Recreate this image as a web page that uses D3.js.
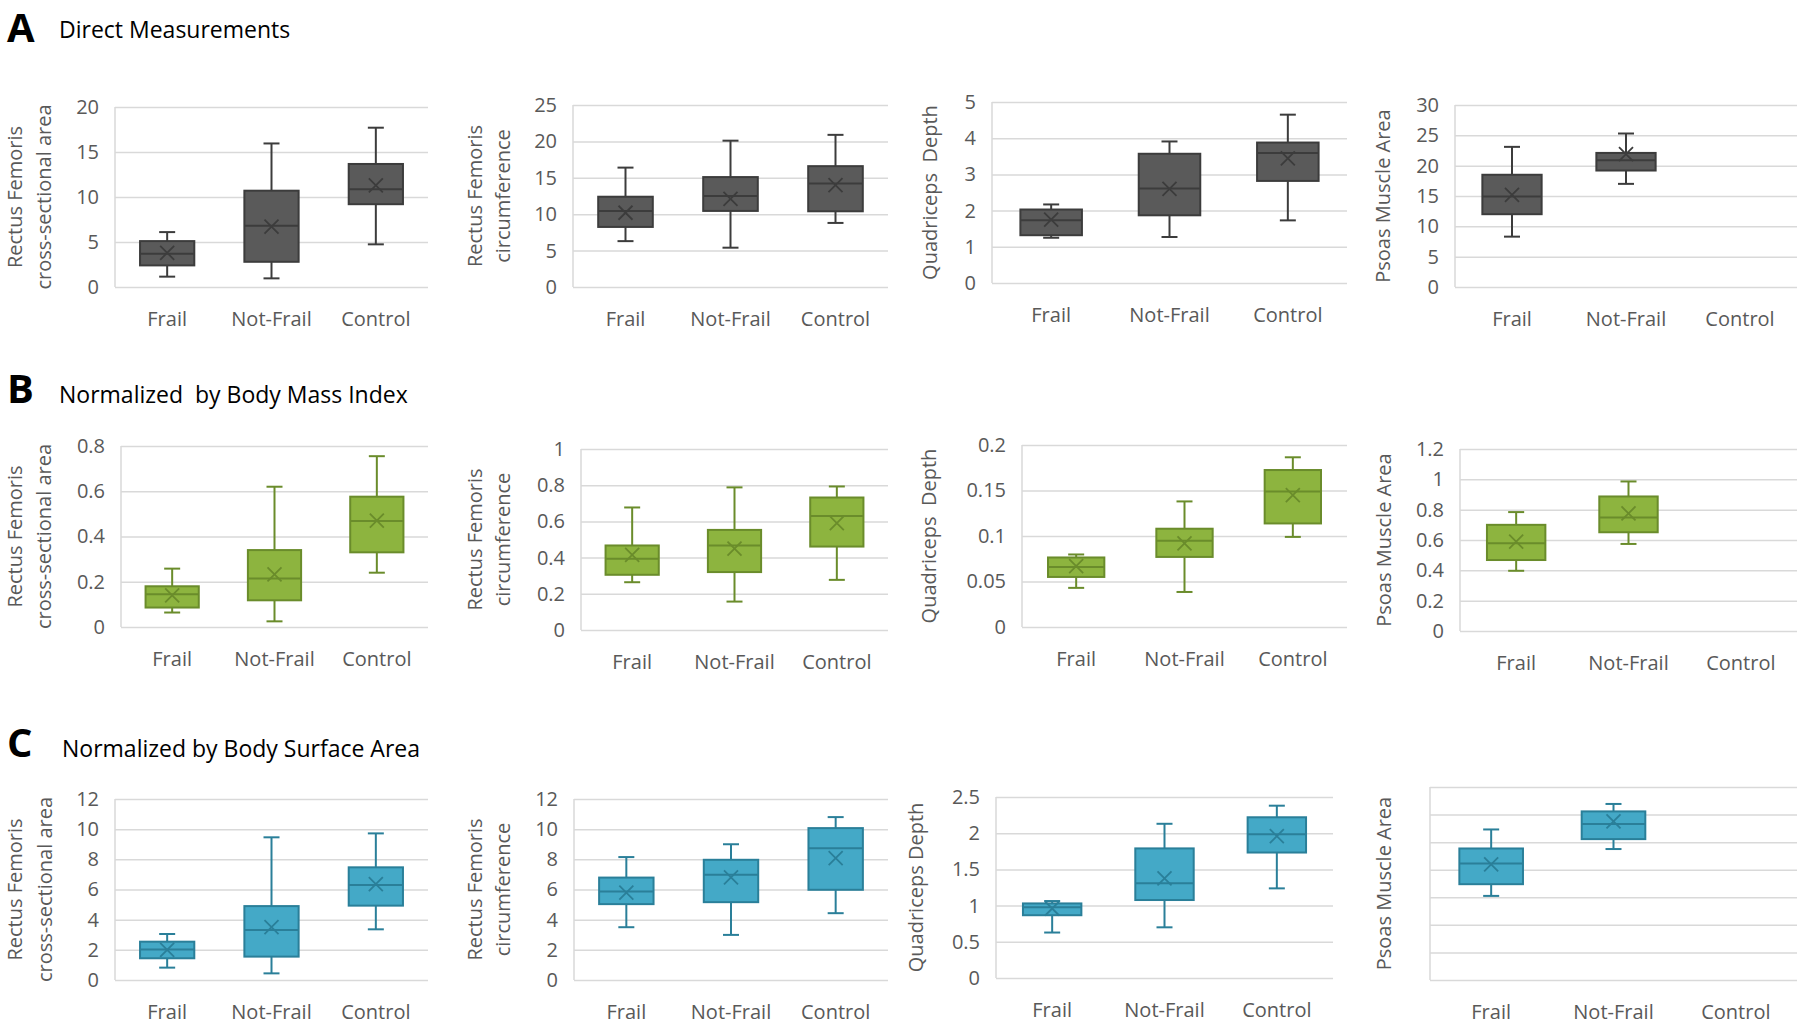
<!DOCTYPE html>
<html><head><meta charset="utf-8">
<script src="https://cdn.jsdelivr.net/npm/d3@7"></script>
<style>
html,body{margin:0;padding:0;background:#fff;}
svg{display:block;}
text{font-family:"Open Sans",sans-serif;}
</style></head>
<body>
<svg id="chart" width="1800" height="1029"></svg>
<script>
// ---------- DATA ----------
const categories = ["Frail", "Not-Frail", "Control"];
const sectionLetters = ["A", "B", "C"];
const sectionTitles = ["Direct Measurements", "Normalized  by Body Mass Index", "Normalized by Body Surface Area"];

// y-axis titles per row (each entry: lines)
const yTitlesA = [["Rectus Femoris", "cross-sectional area"], ["Rectus Femoris", "circumference"], ["Quadriceps  Depth"], ["Psoas Muscle Area"]];
const yTitlesB = [["Rectus Femoris", "cross-sectional area"], ["Rectus Femoris", "circumference"], ["Quadriceps  Depth"], ["Psoas Muscle Area"]];
const yTitlesC = [["Rectus Femoris", "cross-sectional area"], ["Rectus Femoris", "circumference"], ["Quadriceps Depth"], ["Psoas Muscle Area"]];

// box stats per category: [whiskerLow, Q1, median, Q3, whiskerHigh, mean]
const directRFCSA   = [[1.15, 2.4, 3.7, 5.1, 6.1, 3.8], [0.96, 2.8, 6.8, 10.7, 15.95, 6.7], [4.74, 9.2, 10.85, 13.67, 17.7, 11.3]];
const directRFCirc  = [[6.3, 8.25, 10.45, 12.4, 16.4, 10.2], [5.4, 10.45, 12.5, 15.1, 20.1, 12.1], [8.8, 10.4, 14.2, 16.6, 20.9, 14.0]];
const directQD      = [[1.25, 1.32, 1.73, 2.03, 2.17, 1.75], [1.27, 1.87, 2.61, 3.57, 3.91, 2.6], [1.73, 2.82, 3.59, 3.88, 4.65, 3.44]];
const directPsoas   = [[8.3, 12.0, 14.9, 18.5, 23.1, 15.2], [17.0, 19.2, 20.9, 22.1, 25.3, 21.9], null];

const bmiRFCSA      = [[0.064, 0.086, 0.145, 0.18, 0.258, 0.14], [0.025, 0.118, 0.214, 0.34, 0.62, 0.233], [0.24, 0.33, 0.468, 0.576, 0.755, 0.47]];
const bmiRFCirc     = [[0.264, 0.305, 0.393, 0.467, 0.677, 0.415], [0.157, 0.32, 0.467, 0.553, 0.788, 0.45], [0.277, 0.461, 0.63, 0.732, 0.793, 0.59]];
const bmiQD         = [[0.043, 0.055, 0.066, 0.0764, 0.0797, 0.067], [0.0385, 0.077, 0.0947, 0.108, 0.138, 0.092], [0.099, 0.1138, 0.149, 0.1725, 0.1865, 0.145]];
const bmiPsoas      = [[0.397, 0.468, 0.578, 0.70, 0.784, 0.59], [0.574, 0.651, 0.748, 0.887, 0.986, 0.775], null];

const bsaRFCSA      = [[0.82, 1.44, 2.03, 2.54, 3.05, 1.99], [0.44, 1.55, 3.32, 4.9, 9.46, 3.5], [3.36, 4.93, 6.3, 7.47, 9.72, 6.35]];
const bsaRFCirc     = [[3.5, 5.03, 5.86, 6.79, 8.15, 5.8], [2.99, 5.16, 6.97, 7.97, 9.0, 6.8], [4.43, 5.98, 8.74, 10.07, 10.8, 8.08]];
const bsaQD         = [[0.628, 0.867, 0.977, 1.03, 1.063, 0.96], [0.70, 1.077, 1.307, 1.79, 2.13, 1.376], [1.238, 1.733, 1.985, 2.22, 2.38, 1.96]];
const bsaPsoas      = [[6.1, 6.95, 8.45, 9.54, 10.92, 8.38], [9.5, 10.22, 11.31, 12.23, 12.77, 11.5], null];

// tick values per panel
const ticksA = [[0, 5, 10, 15, 20], [0, 5, 10, 15, 20, 25], [0, 1, 2, 3, 4, 5], [0, 5, 10, 15, 20, 25, 30]];
const ticksB = [[0, 0.2, 0.4, 0.6, 0.8], [0, 0.2, 0.4, 0.6, 0.8, 1], [0, 0.05, 0.1, 0.15, 0.2], [0, 0.2, 0.4, 0.6, 0.8, 1, 1.2]];
const ticksC = [[0, 2, 4, 6, 8, 10, 12], [0, 2, 4, 6, 8, 10, 12], [0, 0.5, 1, 1.5, 2, 2.5], [0, 2, 4, 6, 8, 10, 12, 14]];
const showTickLabelsC = [true, true, true, false];

// ---------- LAYOUT / STYLE ----------
const rows = [
  { data: [directRFCSA, directRFCirc, directQD, directPsoas], ticks: ticksA, titles: yTitlesA, show: [true, true, true, true],
    fill: "#5a5a5a", stroke: "#3c3c3c",
    letter: { x: 7, y: 42 }, title: { x: 59, y: 38 },
    rects: [[115, 428, 107, 287], [573, 888, 105, 287], [992, 1347, 102, 283], [1455, 1797, 105, 287]],
    ytx: [[22, 51], [482, 510], [937], [1390]] },
  { data: [bmiRFCSA, bmiRFCirc, bmiQD, bmiPsoas], ticks: ticksB, titles: yTitlesB, show: [true, true, true, true],
    fill: "#8db43f", stroke: "#6a8c2b",
    letter: { x: 7, y: 403 }, title: { x: 59, y: 403 },
    rects: [[121, 428, 446, 627], [581, 888, 449, 630], [1022, 1347, 445, 627], [1460, 1797, 449, 631]],
    ytx: [[22, 51], [482, 510], [936], [1391]] },
  { data: [bsaRFCSA, bsaRFCirc, bsaQD, bsaPsoas], ticks: ticksC, titles: yTitlesC, show: showTickLabelsC,
    fill: "#44a9c7", stroke: "#2a7f99",
    letter: { x: 7, y: 757 }, title: { x: 62, y: 757 },
    rects: [[115, 428, 799, 980], [574, 888, 799, 980], [996, 1333, 797, 978], [1430, 1797, 787, 980]],
    ytx: [[22, 52], [482, 510], [923], [1391]] }
];

const gridColor = "#d9d9d9";
const textColor = "#595959";

const svg = d3.select("#chart");

rows.forEach((row, ri) => {
  svg.append("text").attr("x", row.letter.x).attr("y", row.letter.y)
    .attr("font-family", "'Liberation Sans', Arial, sans-serif").attr("font-weight", "bold")
    .attr("font-size", 40).attr("fill", "#000").text(sectionLetters[ri]);
  svg.append("text").attr("x", row.title.x).attr("y", row.title.y)
    .attr("font-size", 23).attr("fill", "#000")
    .style("white-space", "pre").text(sectionTitles[ri]);

  row.data.forEach((stats, pi) => {
    const [x0, x1, y0, y1] = row.rects[pi];
    const ticks = row.ticks[pi];
    const g = svg.append("g");
    const x = d3.scaleBand().domain(categories).range([x0, x1]).paddingInner(0).paddingOuter(0);
    const y = d3.scaleLinear().domain([0, ticks[ticks.length - 1]]).range([y1, y0]);

    // gridlines + tick labels
    const axis = d3.axisLeft(y).tickValues(ticks).tickSize(-(x1 - x0)).tickPadding(16)
      .tickFormat(row.show[pi] ? d3.format("~g") : () => "");
    const ag = g.append("g").attr("transform", `translate(${x0},0)`).call(axis);
    ag.select(".domain").remove();
    ag.selectAll(".tick line").attr("stroke", gridColor).attr("stroke-width", 1.5);
    ag.selectAll(".tick text").attr("fill", textColor).attr("font-size", 20)
      .attr("font-family", "'Open Sans', sans-serif");
    // left axis line
    g.append("line").attr("x1", x0).attr("x2", x0).attr("y1", y(ticks[ticks.length - 1])).attr("y2", y(0))
      .attr("stroke", gridColor).attr("stroke-width", 1.5);

    // category labels
    g.selectAll(".cat").data(categories).join("text")
      .attr("x", d => x(d) + x.bandwidth() / 2).attr("y", y1 + 39)
      .attr("text-anchor", "middle").attr("font-size", 20).attr("fill", textColor).text(d => d);

    // boxes
    const bw = x.bandwidth() * 0.52;
    const capW = 16;
    const mk = 7;
    categories.forEach((c, ci) => {
      const s = stats[ci];
      if (!s) return;
      const [lo, q1, med, q3, hi, mean] = s;
      const cx = x(c) + x.bandwidth() / 2;
      const bg = g.append("g").attr("stroke", row.stroke).attr("stroke-width", 2);
      bg.append("line").attr("x1", cx).attr("x2", cx).attr("y1", y(hi)).attr("y2", y(q3));
      bg.append("line").attr("x1", cx).attr("x2", cx).attr("y1", y(q1)).attr("y2", y(lo));
      bg.append("line").attr("x1", cx - capW / 2).attr("x2", cx + capW / 2).attr("y1", y(hi)).attr("y2", y(hi));
      bg.append("line").attr("x1", cx - capW / 2).attr("x2", cx + capW / 2).attr("y1", y(lo)).attr("y2", y(lo));
      bg.append("rect").attr("x", cx - bw / 2).attr("width", bw)
        .attr("y", y(q3)).attr("height", y(q1) - y(q3)).attr("fill", row.fill);
      bg.append("line").attr("x1", cx - bw / 2).attr("x2", cx + bw / 2).attr("y1", y(med)).attr("y2", y(med));
      const my = y(mean);
      bg.append("path").attr("fill", "none").attr("stroke-width", 1.8)
        .attr("d", `M${cx - mk},${my - mk}L${cx + mk},${my + mk}M${cx - mk},${my + mk}L${cx + mk},${my - mk}`);
    });

    // y title
    const lines = row.titles[pi];
    const cy = (y0 + y1) / 2;
    lines.forEach((t, li) => {
      const bx = row.ytx[pi][li];
      svg.append("text").attr("transform", `translate(${bx},${cy}) rotate(-90)`)
        .attr("text-anchor", "middle").attr("font-size", 20).attr("fill", textColor)
        .style("white-space", "pre").text(t);
    });
  });
});
</script>
</body></html>
